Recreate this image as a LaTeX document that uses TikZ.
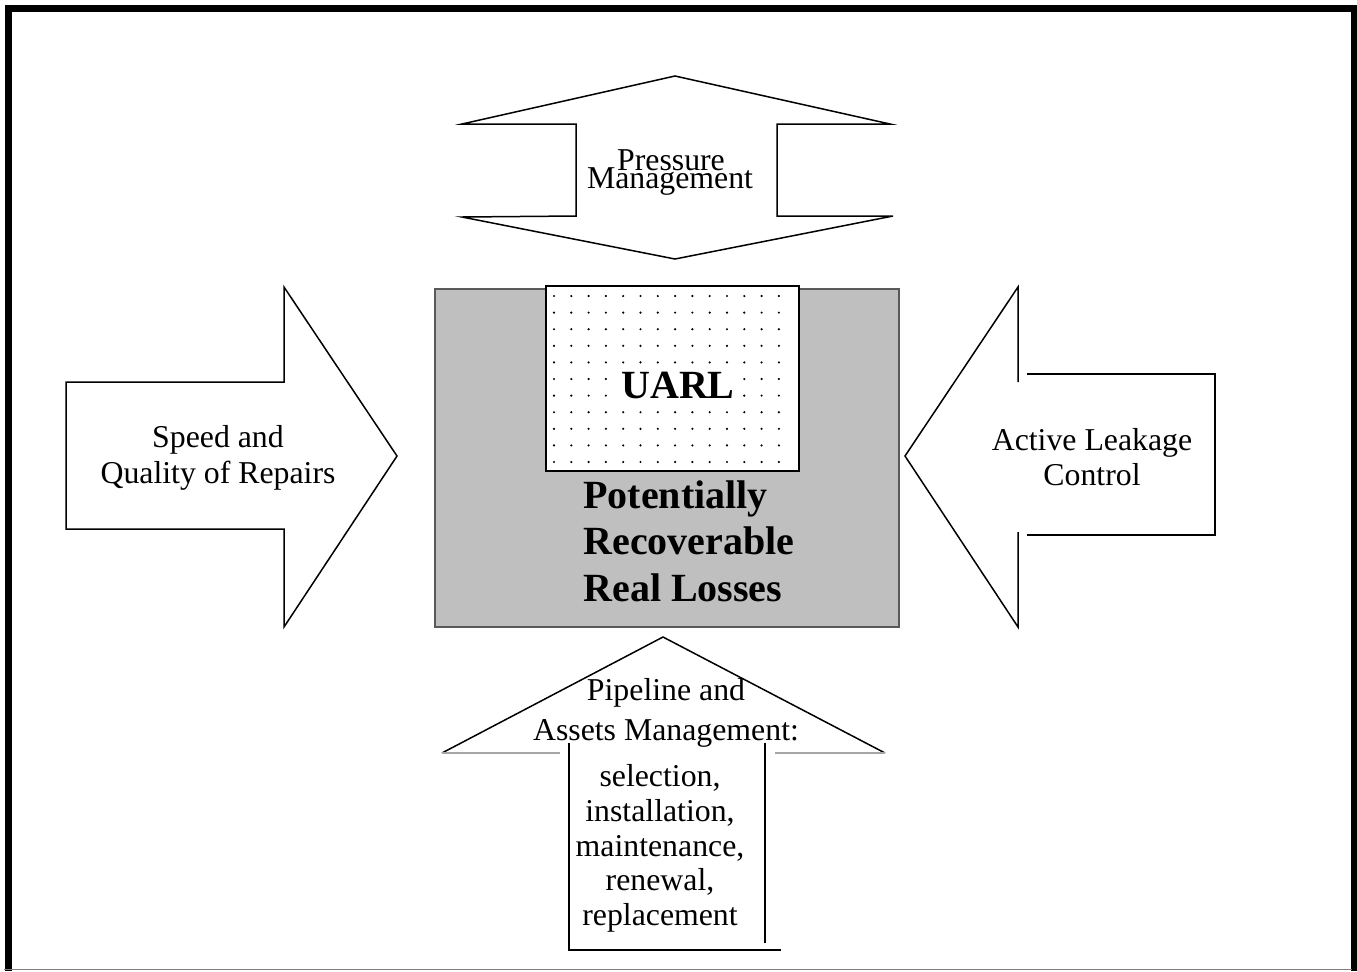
\documentclass[tikz,border=0pt]{standalone}
\usepackage{fontspec}
\setmainfont{Liberation Serif}

\begin{document}
\begin{tikzpicture}[
    x = 0.5pt, y = -0.5pt,
    every node/.style = {inner sep=0pt, align=center},
    outline/.style = {line width=0.75pt, line join=miter},
    thin gray/.style = {line width=0.75pt, gray!70},
    plain text/.style = {font=\fontsize{15.9}{18}\selectfont},
    bold text/.style = {font=\fontsize{20}{23.25}\selectfont\bfseries}
    ]
    \useasboundingbox (0,0) rectangle (1357,971);

    % frame
    \draw[line width=3.5pt, line join=miter] (8,971) -- (8,8.5) -- (1354.5,8.5) -- (1354.5,971);
    \draw[gray, line width=0.5pt] (4,969.5) -- (1352,969.5);

    % centre box with the UARL part
    \draw[fill=gray!50, draw=black!65, line width=1pt] (435,289) rectangle (899,627);
    \draw[fill=white, line width=1pt] (546,286) rectangle (799,471);
    \foreach \i in {0,...,13}
      \foreach \j in {0,...,10}
        \fill (554+17.3*\i, 296+16.6*\j) circle (1.2);
    \node[fill=white, bold text, anchor=base] (uarl) at (678,398) {UARL};
    \node[bold text, align=left, anchor=north west] (prl) at (583,480)
      {Potentially\\Recoverable\\Real Losses};

    % pressure management (top)
    \draw[outline] (675,76) -- (890,124) -- (777,124) -- (777,216) -- (893,216)
      -- (675,259) -- (462,217) -- (576,216) -- (576,124) -- (462,124) -- cycle;
    \node[plain text, anchor=base] (pressure) at (671,170) {Pressure};
    \node[plain text, anchor=base] (management) at (670,188) {Management};

    % repairs (left)
    \draw[outline] (66,382) -- (284,382) -- (284,287) -- (397,456) -- (284,627)
      -- (284,529) -- (66,529) -- cycle;
    \node[plain text, anchor=north] (repairs) at (218,425) {Speed and\\Quality of Repairs};

    % leakage control (right)
    \draw[outline] (1018,382) -- (1018,287) -- (905,456) -- (1018,627) -- (1018,532);
    \draw[outline] (1027,374) -- (1215,374) -- (1215,535) -- (1027,535);
    \node[plain text, anchor=north, font=\fontsize{15.9}{17.5}\selectfont] (alc) at (1092,428)
      {Active Leakage\\Control};

    % pipeline and assets (bottom)
    \draw[outline] (442,753) -- (663,637) -- (885,753);
    \draw[thin gray] (442,753) -- (560,753) (775,753) -- (885,753);
    \draw[outline] (569,743) -- (569,950) -- (781,950);
    \draw[outline] (765,743) -- (765,943);
    \node[plain text, anchor=north, font=\fontsize{15.9}{20}\selectfont] (pipeline) at (666,678)
      {Pipeline and\\Assets Management:};
    \node[plain text, anchor=north, font=\fontsize{15.9}{17.4}\selectfont] (steps) at (660,764)
      {selection,\\installation,\\maintenance,\\renewal,\\replacement};
\end{tikzpicture}
\end{document}
